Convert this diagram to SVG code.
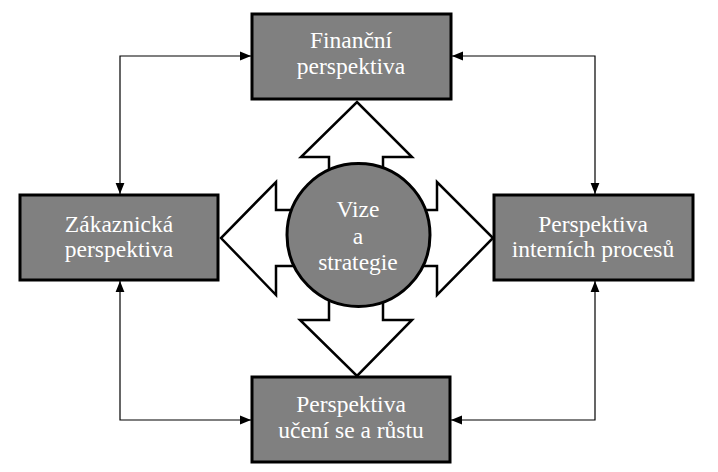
<svg xmlns="http://www.w3.org/2000/svg" width="718" height="472" viewBox="0 0 718 472">
<style>
.box{fill:#808080;stroke:#000;stroke-width:3}
.big{fill:#fff;stroke:#000;stroke-width:2.5;stroke-linejoin:miter}
.lbl{font-family:'Liberation Serif','Times New Roman',serif;font-size:23.5px;fill:#fff;text-anchor:middle}
.con{fill:none;stroke:#000;stroke-width:1.2}
</style>
<defs>
<marker id="ah" viewBox="0 0 10 10" refX="10" refY="5" markerWidth="11" markerHeight="11" markerUnits="userSpaceOnUse" orient="auto-start-reverse">
<path d="M0,1 L10,5 L0,9 Z" fill="#000"/>
</marker>
</defs>
<rect width="718" height="472" fill="#fff"/>
<g id="connectors">
<polyline class="con" points="120,194 120,56 251,56" marker-start="url(#ah)" marker-end="url(#ah)"/>
<polyline class="con" points="452,56 595,56 595,194" marker-start="url(#ah)" marker-end="url(#ah)"/>
<polyline class="con" points="120,281 120,420 251,420" marker-start="url(#ah)" marker-end="url(#ah)"/>
<polyline class="con" points="595,281 595,420 451,420" marker-start="url(#ah)" marker-end="url(#ah)"/>
</g>
<g id="big-arrows">
<polygon class="big" points="329,236 329,157 301,157 357,102 412,157 383,157 383,236"/>
<polygon class="big" points="358,210 276,210 276,182 221,238 276,295 276,266 358,266"/>
<polygon class="big" points="358,210 437,210 437,182 493,238 437,295 437,266 358,266"/>
<polygon class="big" points="329,236 329,320 300,320 357,376 412,320 383,320 383,236"/>
</g>
<g id="financni">
<rect class="box" x="252" y="14" width="199" height="85"/>
<text class="lbl" x="351" y="48">Finanční</text>
<text class="lbl" x="351" y="74">perspektiva</text>
</g>
<g id="zakaznicka">
<rect class="box" x="20" y="195" width="198" height="85"/>
<text class="lbl" x="119" y="232">Zákaznická</text>
<text class="lbl" x="119" y="257">perspektiva</text>
</g>
<g id="interni">
<rect class="box" x="494" y="195" width="199" height="85"/>
<text class="lbl" x="593" y="232">Perspektiva</text>
<text class="lbl" x="593" y="257">interních procesů</text>
</g>
<g id="uceni">
<rect class="box" x="252" y="377" width="198" height="85"/>
<text class="lbl" x="351" y="412">Perspektiva</text>
<text class="lbl" x="351" y="438">učení se a růstu</text>
</g>
<g id="vize">
<circle class="box" cx="358.5" cy="235" r="71.5"/>
<text class="lbl" x="358" y="217">Vize</text>
<text class="lbl" x="358" y="244">a</text>
<text class="lbl" x="358" y="270">strategie</text>
</g>
</svg>
